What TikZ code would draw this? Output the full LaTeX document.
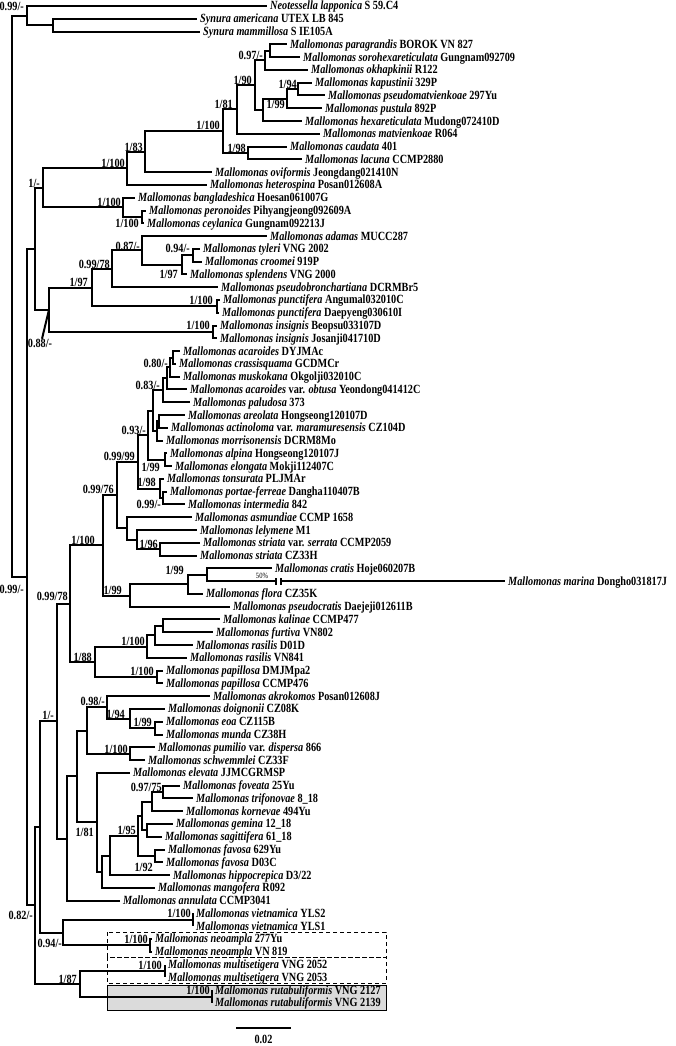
\documentclass[tikz,border=0pt]{standalone}
\usepackage{fontspec}
\setmainfont{Liberation Serif}[FakeStretch=0.82]

\begin{document}
\begin{tikzpicture}[x=1pt,y=-1pt,font=\fontsize{12.5}{12.5}\selectfont\bfseries,
  br/.style={line width=2pt},
  lf/.style={anchor=west,inner xsep=3pt,inner ysep=0pt,text height=8pt,text depth=0pt},
  sup/.style={anchor=east,inner sep=0pt,text height=8pt,text depth=0pt},
  grp/.style={line width=1pt,dash pattern=on 4pt off 3pt},
  hl/.style={draw,fill=black!14,line width=1pt}]
\useasboundingbox (0,0) rectangle (675,1046);
% clade boxes
\draw[hl]  (107,985) rectangle (386,1010);
\draw[grp] (107,932) rectangle (386,957);
\draw[grp] (107,957) rectangle (386,983);
% internal nodes
\coordinate (root) at (12,296.3);
\coordinate (nOut) at (27,15.6);
\coordinate (nSyn) at (53,25.2);
\coordinate (nIn) at (27,577.0);
\coordinate (nA) at (35,248.8);
\coordinate (nB) at (43,187.8);
\coordinate (n127) at (127,168.3);
\coordinate (n145) at (145,151.7);
\coordinate (n223) at (223,131.2);
\coordinate (n237) at (237,109.4);
\coordinate (n255) at (255,85.1);
\coordinate (n265) at (265,60.3);
\coordinate (n270) at (270,50.7);
\coordinate (n263) at (263,109.8);
\coordinate (n287) at (287,98.7);
\coordinate (n298) at (298,89.1);
\coordinate (n248) at (248,153.0);
\coordinate (n123) at (123,207.3);
\coordinate (n142) at (142,216.9);
\coordinate (nC) at (49,309.7);
\coordinate (n92) at (92,287.6);
\coordinate (n112) at (112,268.8);
\coordinate (n142b) at (142,250.4);
\coordinate (n182) at (182,264.8);
\coordinate (n193) at (193,255.2);
\coordinate (n217) at (217,306.3);
\coordinate (n213) at (213,331.9);
\coordinate (nD) at (35,905.3);
\coordinate (n40) at (40,826.8);
\coordinate (n57) at (57,721.0);
\coordinate (n70) at (70,603.6);
\coordinate (n103) at (103,545.3);
\coordinate (n117) at (117,495.1);
\coordinate (n138) at (138,461.8);
\coordinate (n148) at (148,435.1);
\coordinate (n153) at (153,410.6);
\coordinate (n163) at (163,390.2);
\coordinate (n167) at (167,378.2);
\coordinate (n170) at (170,367.0);
\coordinate (n173) at (173,357.5);
\coordinate (n157) at (157,430.9);
\coordinate (n159) at (159,421.4);
\coordinate (n165) at (165,459.7);
\coordinate (n160) at (160,488.5);
\coordinate (n163b) at (163,498.0);
\coordinate (n127b) at (127,528.4);
\coordinate (n137) at (137,539.6);
\coordinate (n160b) at (160,549.2);
\coordinate (n130) at (130,595.5);
\coordinate (n188) at (188,584.3);
\coordinate (n207) at (207,574.7);
\coordinate (brkA) at (276,581.1);
\coordinate (brkB) at (281,581.1);
\coordinate (n95) at (95,661.8);
\coordinate (n147) at (147,646.6);
\coordinate (n155) at (155,635.4);
\coordinate (n163c) at (163,625.8);
\coordinate (n157b) at (157,677.0);
\coordinate (n67) at (67,838.5);
\coordinate (n77) at (77,776.3);
\coordinate (n87) at (87,730.5);
\coordinate (n107) at (107,707.3);
\coordinate (n130b) at (130,718.5);
\coordinate (n155b) at (155,728.1);
\coordinate (n130c) at (130,753.6);
\coordinate (n97) at (97,822.2);
\coordinate (n102) at (102,871.6);
\coordinate (n110) at (110,855.5);
\coordinate (n138b) at (138,835.9);
\coordinate (n142c) at (142,815.9);
\coordinate (n152) at (152,801.6);
\coordinate (n163d) at (163,792.0);
\coordinate (n147b) at (147,830.3);
\coordinate (n155c) at (155,855.9);
\coordinate (n63) at (63,932.6);
\coordinate (n193b) at (193,919.8);
\coordinate (n150) at (150,945.3);
\coordinate (n80) at (80,983.7);
\coordinate (n165b) at (165,970.9);
\coordinate (n212) at (212,996.5);
% taxa
\node[lf] (l01) at (267,6.0) {\textit{Neotessella lapponica} S 59.C4};
\node[lf] (l02) at (197,18.8) {\textit{Synura americana} UTEX LB 845};
\node[lf] (l03) at (200,31.6) {\textit{Synura mammillosa} S IE105A};
\node[lf] (l04) at (287,44.3) {\textit{Mallomonas paragrandis} BOROK VN 827};
\node[lf] (l05) at (300,57.1) {\textit{Mallomonas sorohexareticulata} Gungnam092709};
\node[lf] (l06) at (308,69.9) {\textit{Mallomonas okhapkinii} R122};
\node[lf] (l07) at (312,82.7) {\textit{Mallomonas kapustinii} 329P};
\node[lf] (l08) at (325,95.5) {\textit{Mallomonas pseudomatvienkoae} 297Yu};
\node[lf] (l09) at (322,108.2) {\textit{Mallomonas pustula} 892P};
\node[lf] (l10) at (302,121.0) {\textit{Mallomonas hexareticulata} Mudong072410D};
\node[lf] (l11) at (320,133.8) {\textit{Mallomonas matvienkoae} R064};
\node[lf] (l12) at (287,146.6) {\textit{Mallomonas caudata} 401};
\node[lf] (l13) at (302,159.4) {\textit{Mallomonas lacuna} CCMP2880};
\node[lf] (l14) at (212,172.1) {\textit{Mallomonas oviformis} Jeongdang021410N};
\node[lf] (l15) at (207,184.9) {\textit{Mallomonas heterospina} Posan012608A};
\node[lf] (l16) at (135,197.7) {\textit{Mallomonas bangladeshica} Hoesan061007G};
\node[lf] (l17) at (146,210.5) {\textit{Mallomonas peronoides} Pihyangjeong092609A};
\node[lf] (l18) at (144,223.3) {\textit{Mallomonas ceylanica} Gungnam092213J};
\node[lf] (l19) at (267,236.0) {\textit{Mallomonas adamas} MUCC287};
\node[lf] (l20) at (200,248.8) {\textit{Mallomonas tyleri} VNG 2002};
\node[lf] (l21) at (202,261.6) {\textit{Mallomonas croomei} 919P};
\node[lf] (l22) at (187,274.4) {\textit{Mallomonas splendens} VNG 2000};
\node[lf] (l23) at (218,287.2) {\textit{Mallomonas pseudobronchartiana} DCRMBr5};
\node[lf] (l24) at (220,299.9) {\textit{Mallomonas punctifera} Angumal032010C};
\node[lf] (l25) at (219,312.7) {\textit{Mallomonas punctifera} Daepyeng030610I};
\node[lf] (l26) at (217,325.5) {\textit{Mallomonas insignis} Beopsu033107D};
\node[lf] (l27) at (217,338.3) {\textit{Mallomonas insignis} Josanji041710D};
\node[lf] (l28) at (180,351.1) {\textit{Mallomonas acaroides} DYJMAc};
\node[lf] (l29) at (176,363.8) {\textit{Mallomonas crassisquama} GCDMCr};
\node[lf] (l30) at (180,376.6) {\textit{Mallomonas muskokana} Okgolji032010C};
\node[lf] (l31) at (187,389.4) {\textit{Mallomonas acaroides} var. \textit{obtusa} Yeondong041412C};
\node[lf] (l32) at (190,402.2) {\textit{Mallomonas paludosa} 373};
\node[lf] (l33) at (185,415.0) {\textit{Mallomonas areolata} Hongseong120107D};
\node[lf] (l34) at (168,427.7) {\textit{Mallomonas actinoloma} var. \textit{maramuresensis} CZ104D};
\node[lf] (l35) at (163,440.5) {\textit{Mallomonas morrisonensis} DCRM8Mo};
\node[lf] (l36) at (167,453.3) {\textit{Mallomonas alpina} Hongseong120107J};
\node[lf] (l37) at (172,466.1) {\textit{Mallomonas elongata} Mokji112407C};
\node[lf] (l38) at (164,478.9) {\textit{Mallomonas tonsurata} PLJMAr};
\node[lf] (l39) at (167,491.6) {\textit{Mallomonas portae-ferreae} Dangha110407B};
\node[lf] (l40) at (185,504.4) {\textit{Mallomonas intermedia} 842};
\node[lf] (l41) at (192,517.2) {\textit{Mallomonas asmundiae} CCMP 1658};
\node[lf] (l42) at (197,530.0) {\textit{Mallomonas lelymene} M1};
\node[lf] (l43) at (200,542.8) {\textit{Mallomonas striata} var. \textit{serrata} CCMP2059};
\node[lf] (l44) at (197,555.5) {\textit{Mallomonas striata} CZ33H};
\node[lf] (l45) at (272,568.3) {\textit{Mallomonas cratis} Hoje060207B};
\node[lf] (l46) at (505,581.1) {\textit{Mallomonas marina} Dongho031817J};
\node[lf] (l47) at (203,593.9) {\textit{Mallomonas flora} CZ35K};
\node[lf] (l48) at (230,606.7) {\textit{Mallomonas pseudocratis} Daejeji012611B};
\node[lf] (l49) at (220,619.4) {\textit{Mallomonas kalinae} CCMP477};
\node[lf] (l50) at (213,632.2) {\textit{Mallomonas furtiva} VN802};
\node[lf] (l51) at (193,645.0) {\textit{Mallomonas rasilis} D01D};
\node[lf] (l52) at (187,657.8) {\textit{Mallomonas rasilis} VN841};
\node[lf] (l53) at (163,670.6) {\textit{Mallomonas papillosa} DMJMpa2};
\node[lf] (l54) at (163,683.3) {\textit{Mallomonas papillosa} CCMP476};
\node[lf] (l55) at (210,696.1) {\textit{Mallomonas akrokomos} Posan012608J};
\node[lf] (l56) at (165,708.9) {\textit{Mallomonas doignonii} CZ08K};
\node[lf] (l57) at (163,721.7) {\textit{Mallomonas eoa} CZ115B};
\node[lf] (l58) at (163,734.5) {\textit{Mallomonas munda} CZ38H};
\node[lf] (l59) at (155,747.2) {\textit{Mallomonas pumilio} var. \textit{dispersa} 866};
\node[lf] (l60) at (145,760.0) {\textit{Mallomonas schwemmlei} CZ33F};
\node[lf] (l61) at (130,772.8) {\textit{Mallomonas elevata} JJMCGRMSP};
\node[lf] (l62) at (180,785.6) {\textit{Mallomonas foveata} 25Yu};
\node[lf] (l63) at (193,798.4) {\textit{Mallomonas trifonovae} 8\_18};
\node[lf] (l64) at (183,811.1) {\textit{Mallomonas kornevae} 494Yu};
\node[lf] (l65) at (173,823.9) {\textit{Mallomonas gemina} 12\_18};
\node[lf] (l66) at (162,836.7) {\textit{Mallomonas sagittifera} 61\_18};
\node[lf] (l67) at (165,849.5) {\textit{Mallomonas favosa} 629Yu};
\node[lf] (l68) at (163,862.3) {\textit{Mallomonas favosa} D03C};
\node[lf] (l69) at (170,875.0) {\textit{Mallomonas hippocrepica} D3/22};
\node[lf] (l70) at (155,887.8) {\textit{Mallomonas mangofera} R092};
\node[lf] (l71) at (120,900.6) {\textit{Mallomonas annulata} CCMP3041};
\node[lf] (l72) at (193,913.4) {\textit{Mallomonas vietnamica} YLS2};
\node[lf] (l73) at (193,926.2) {\textit{Mallomonas vietnamica} YLS1};
\node[lf] (l74) at (152,938.9) {\textit{Mallomonas neoampla} 277Yu};
\node[lf] (l75) at (152,951.7) {\textit{Mallomonas neoampla} VN 819};
\node[lf] (l76) at (165,964.5) {\textit{Mallomonas multisetigera} VNG 2052};
\node[lf] (l77) at (165,977.3) {\textit{Mallomonas multisetigera} VNG 2053};
\node[lf] (l78) at (212,990.1) {\textit{Mallomonas rutabuliformis} VNG 2127};
\node[lf] (l79) at (212,1002.8) {\textit{Mallomonas rutabuliformis} VNG 2139};
% branches
\draw[br] (root) |- (nOut) (root) |- (nIn);
\draw[br] (nOut) |- (l01.west) (nOut) |- (nSyn);
\draw[br] (nSyn) |- (l02.west) (nSyn) |- (l03.west);
\draw[br] (nIn) |- (nA) (nIn) |- (nD);
\draw[br] (nA) |- (nB) (nA) |- (nC);
\draw[br] (nB) |- (n127) (nB) |- (n123);
\draw[br] (n127) |- (n145) (n127) |- (l15.west);
\draw[br] (n145) |- (n223) (n145) |- (l14.west);
\draw[br] (n223) |- (n237) (n223) |- (n248);
\draw[br] (n237) |- (n255) (n237) |- (l11.west);
\draw[br] (n255) |- (n265) (n255) |- (n263);
\draw[br] (n265) |- (n270) (n265) |- (l06.west);
\draw[br] (n270) |- (l04.west) (n270) |- (l05.west);
\draw[br] (n263) |- (n287) (n263) |- (l10.west);
\draw[br] (n287) |- (n298) (n287) |- (l09.west);
\draw[br] (n298) |- (l07.west) (n298) |- (l08.west);
\draw[br] (n248) |- (l12.west) (n248) |- (l13.west);
\draw[br] (n123) |- (l16.west) (n123) |- (n142);
\draw[br] (n142) |- (l17.west) (n142) |- (l18.west);
\draw[br] (nC) |- (n92) (nC) |- (n213);
\draw[br] (n92) |- (n112) (n92) |- (n217);
\draw[br] (n112) |- (n142b) (n112) |- (l23.west);
\draw[br] (n142b) |- (l19.west) (n142b) |- (n182);
\draw[br] (n182) |- (n193) (n182) |- (l22.west);
\draw[br] (n193) |- (l20.west) (n193) |- (l21.west);
\draw[br] (n217) |- (l24.west) (n217) |- (l25.west);
\draw[br] (n213) |- (l26.west) (n213) |- (l27.west);
\draw[br] (nD) |- (n40) (nD) |- (n80);
\draw[br] (n40) |- (n57) (n40) |- (n63);
\draw[br] (n57) |- (n70) (n57) |- (n67);
\draw[br] (n70) |- (n103) (n70) |- (n95);
\draw[br] (n103) |- (n117) (n103) |- (n130);
\draw[br] (n117) |- (n138) (n117) |- (n127b);
\draw[br] (n138) |- (n148) (n138) |- (n160);
\draw[br] (n148) |- (n153) (n148) |- (n165);
\draw[br] (n153) |- (n163) (n153) |- (n157);
\draw[br] (n163) |- (n167) (n163) |- (l32.west);
\draw[br] (n167) |- (n170) (n167) |- (l31.west);
\draw[br] (n170) |- (n173) (n170) |- (l30.west);
\draw[br] (n173) |- (l28.west) (n173) |- (l29.west);
\draw[br] (n157) |- (n159) (n157) |- (l35.west);
\draw[br] (n159) |- (l33.west) (n159) |- (l34.west);
\draw[br] (n165) |- (l36.west) (n165) |- (l37.west);
\draw[br] (n160) |- (l38.west) (n160) |- (n163b);
\draw[br] (n163b) |- (l39.west) (n163b) |- (l40.west);
\draw[br] (n127b) |- (l41.west) (n127b) |- (n137);
\draw[br] (n137) |- (l42.west) (n137) |- (n160b);
\draw[br] (n160b) |- (l43.west) (n160b) |- (l44.west);
\draw[br] (n130) |- (n188) (n130) |- (l48.west);
\draw[br] (n188) |- (n207) (n188) |- (l47.west);
\draw[br] (n207) |- (l45.west) (n207) |- (brkA) (brkB) -- (l46.west);
\draw[line width=1.3pt] ([yshift=-3.5pt]brkA) -- ([yshift=3.5pt]brkA)
  ([yshift=-3.5pt]brkB) -- ([yshift=3.5pt]brkB);
\draw[br] (n95) |- (n147) (n95) |- (n157b);
\draw[br] (n147) |- (n155) (n147) |- (l52.west);
\draw[br] (n155) |- (n163c) (n155) |- (l51.west);
\draw[br] (n163c) |- (l49.west) (n163c) |- (l50.west);
\draw[br] (n157b) |- (l53.west) (n157b) |- (l54.west);
\draw[br] (n67) |- (n77) (n67) |- (l71.west);
\draw[br] (n77) |- (n87) (n77) |- (n97);
\draw[br] (n87) |- (n107) (n87) |- (n130c);
\draw[br] (n107) |- (l55.west) (n107) |- (n130b);
\draw[br] (n130b) |- (l56.west) (n130b) |- (n155b);
\draw[br] (n155b) |- (l57.west) (n155b) |- (l58.west);
\draw[br] (n130c) |- (l59.west) (n130c) |- (l60.west);
\draw[br] (n97) |- (l61.west) (n97) |- (n102);
\draw[br] (n102) |- (n110) (n102) |- (l70.west);
\draw[br] (n110) |- (n138b) (n110) |- (l69.west);
\draw[br] (n138b) |- (n142c) (n138b) |- (n155c);
\draw[br] (n142c) |- (n152) (n142c) |- (n147b);
\draw[br] (n152) |- (n163d) (n152) |- (l64.west);
\draw[br] (n163d) |- (l62.west) (n163d) |- (l63.west);
\draw[br] (n147b) |- (l65.west) (n147b) |- (l66.west);
\draw[br] (n155c) |- (l67.west) (n155c) |- (l68.west);
\draw[br] (n63) |- (n193b) (n63) |- (n150);
\draw[br] (n193b) |- (l72.west) (n193b) |- (l73.west);
\draw[br] (n150) |- (l74.west) (n150) |- (l75.west);
\draw[br] (n80) |- (n165b) (n80) |- (n212);
\draw[br] (n165b) |- (l76.west) (n165b) |- (l77.west);
\draw[br] (n212) |- (l78.west) (n212) |- (l79.west);
% support values
\node[sup] (s01) at (24,7) {0.99/-};
\node[sup] (s02) at (263,56) {0.97/-};
\node[sup] (s03) at (252,81) {1/90};
\node[sup] (s04) at (297,85) {1/94};
\node[sup] (s05) at (285,105) {1/99};
\node[sup] (s06) at (233,105) {1/81};
\node[sup] (s07) at (220,125) {1/100};
\node[sup] (s08) at (246,149) {1/98};
\node[sup] (s09) at (143,147) {1/83};
\node[sup] (s10) at (125,163) {1/100};
\node[sup] (s11) at (40,183) {1/-};
\node[sup] (s12) at (121,202) {1/100};
\node[sup] (s13) at (139,223.3) {1/100};
\node[sup] (s14) at (140,246) {0.87/-};
\node[sup] (s15) at (190,248.8) {0.94/-};
\node[sup] (s16) at (110,264) {0.99/78};
\node[sup] (s17) at (178,274.4) {1/97};
\node[sup] (s18) at (88,282) {1/97};
\node[sup] (s19) at (213,300) {1/100};
\node[sup] (s20) at (210,325.5) {1/100};
\node[sup,anchor=center] (s21) at (40,343) {0.88/-};
\draw[br] ([xshift=2pt]s21.north) -- (nC);
\node[sup] (s22) at (168,363.8) {0.80/-};
\node[sup] (s23) at (160,385) {0.83/-};
\node[sup] (s24) at (146,430) {0.93/-};
\node[sup] (s25) at (135,456) {0.99/99};
\node[sup] (s26) at (160,467) {1/99};
\node[sup] (s27) at (156,482) {1/98};
\node[sup] (s28) at (114,489) {0.99/76};
\node[sup] (s29) at (161,504.4) {0.99/-};
\node[sup] (s30) at (95,540) {1/100};
\node[sup] (s31) at (158,544) {1/96};
\node[sup] (s32) at (184,570) {1/99};
\node[sup] (s33) at (24,589) {0.99/-};
\node[sup] (s34) at (122,590) {1/99};
\node[sup] (s35) at (68,596) {0.99/78};
\node[font=\fontsize{8}{8}\selectfont\mdseries] (s36) at (262,576) {50\%};
\node[sup] (s37) at (145,641) {1/100};
\node[sup] (s38) at (92,657) {1/88};
\node[sup] (s39) at (154,671) {1/100};
\node[sup] (s40) at (105,701) {0.98/-};
\node[sup] (s41) at (54,715) {1/-};
\node[sup] (s42) at (125,714) {1/94};
\node[sup] (s43) at (152,722) {1/99};
\node[sup] (s44) at (128,749) {1/100};
\node[sup] (s45) at (162,787) {0.97/75};
\node[sup] (s46) at (136,830) {1/95};
\node[sup] (s47) at (94,832) {1/81};
\node[sup] (s48) at (153,867) {1/92};
\node[sup] (s49) at (33,915) {0.82/-};
\node[sup] (s50) at (191,913.4) {1/100};
\node[sup] (s51) at (62,943) {0.94/-};
\node[sup] (s52) at (148,939) {1/100};
\node[sup] (s53) at (162,965) {1/100};
\node[sup] (s54) at (77,979) {1/87};
\node[sup] (s55) at (210,990.1) {1/100};
% scale bar
\coordinate (sbL) at (236,1028);
\coordinate (sbR) at (291,1028);
\draw[br] (sbL) -- (sbR);
\node[sup,anchor=center] (sbt) at (263.5,1039.5) {0.02};
\end{tikzpicture}
\end{document}
